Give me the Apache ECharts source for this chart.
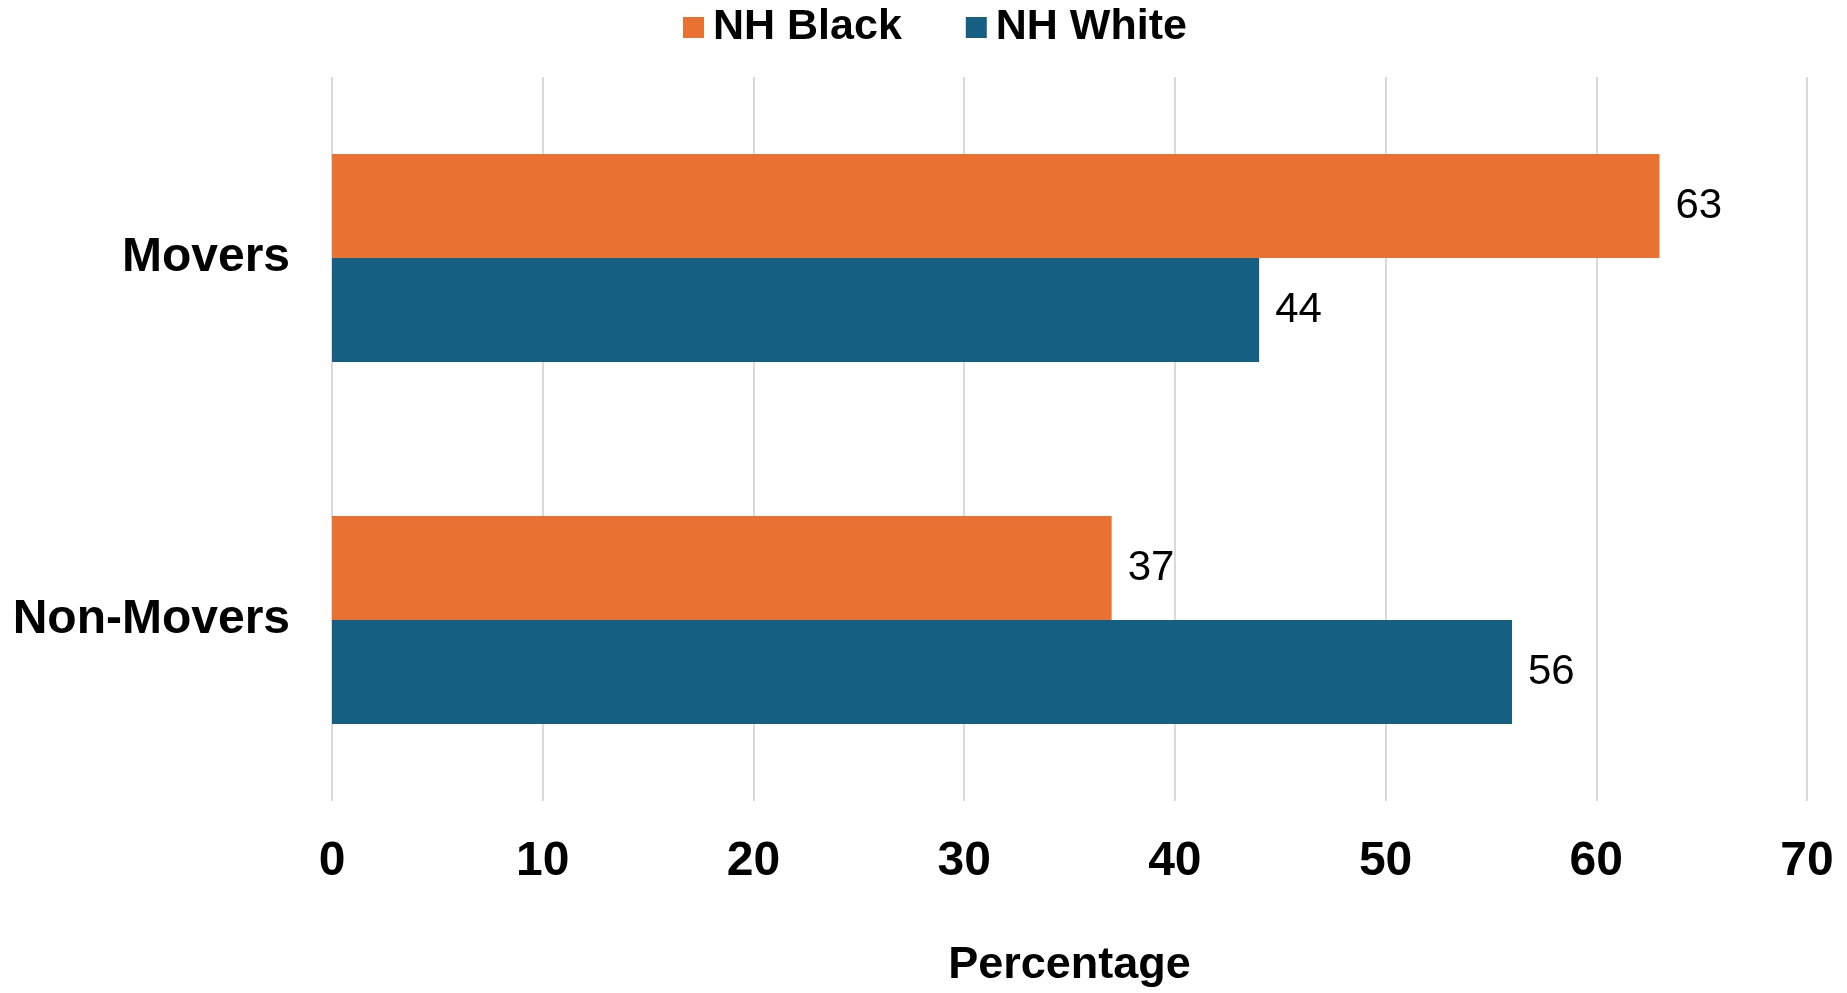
<!DOCTYPE html>
<html>
<head>
<meta charset="utf-8">
<script src="https://cdn.jsdelivr.net/npm/echarts@6/dist/echarts.min.js"></script>
<style>
  html, body { margin: 0; padding: 0; background: #fff; }
  #chart { width: 1847px; height: 993px; }
</style>
</head>
<body>
<div id="chart"></div>
<script>
// data
const categories = ['Movers', 'Non-Movers'];
const blackValues = [63, 37];
const whiteValues = [44, 56];
const seriesNames = ['NH Black', 'NH White'];
const xTicks = [0, 10, 20, 30, 40, 50, 60, 70];

const chart = echarts.init(document.getElementById('chart'));

const barLabel = {
  show: true,
  position: 'right',
  distance: 16,
  fontSize: 42,
  color: '#000',
  fontFamily: 'Liberation Sans, Arial, sans-serif'
};

chart.setOption({
  animation: false,
  backgroundColor: '#fff',
  legend: {
    data: seriesNames,
    left: 678,
    top: 1,
    icon: 'rect',
    itemWidth: 21,
    itemHeight: 21,
    itemGap: 64,
    textStyle: {
      fontSize: 43,
      fontWeight: 'bold',
      color: '#000',
      padding: [0, 0, 0, 4],
      fontFamily: 'Liberation Sans, Arial, sans-serif'
    }
  },
  grid: { left: 332, right: 40, top: 77, bottom: 183 },
  xAxis: {
    type: 'value',
    min: xTicks[0],
    max: xTicks[xTicks.length - 1],
    interval: 10,
    name: 'Percentage',
    nameLocation: 'middle',
    nameGap: 142,
    nameTextStyle: {
      fontSize: 45,
      fontWeight: 'bold',
      color: '#000',
      fontFamily: 'Liberation Sans, Arial, sans-serif'
    },
    axisLine: { show: false },
    axisTick: { show: false },
    axisLabel: {
      margin: 37,
      fontSize: 48,
      fontWeight: 'bold',
      color: '#000',
      fontFamily: 'Liberation Sans, Arial, sans-serif'
    },
    splitLine: { show: true, lineStyle: { color: '#d9d9d9', width: 2 } }
  },
  yAxis: {
    type: 'category',
    data: categories,
    inverse: true,
    axisLine: { show: false },
    axisTick: { show: false },
    axisLabel: {
      margin: 42,
      fontSize: 48,
      fontWeight: 'bold',
      color: '#000',
      fontFamily: 'Liberation Sans, Arial, sans-serif'
    }
  },
  series: [
    {
      name: seriesNames[0],
      type: 'bar',
      data: blackValues,
      itemStyle: { color: '#E97132' },
      barGap: '0%',
      barCategoryGap: '42.6%',
      label: barLabel
    },
    {
      name: seriesNames[1],
      type: 'bar',
      data: whiteValues,
      itemStyle: { color: '#156082' },
      label: barLabel
    }
  ]
});
</script>
</body>
</html>
